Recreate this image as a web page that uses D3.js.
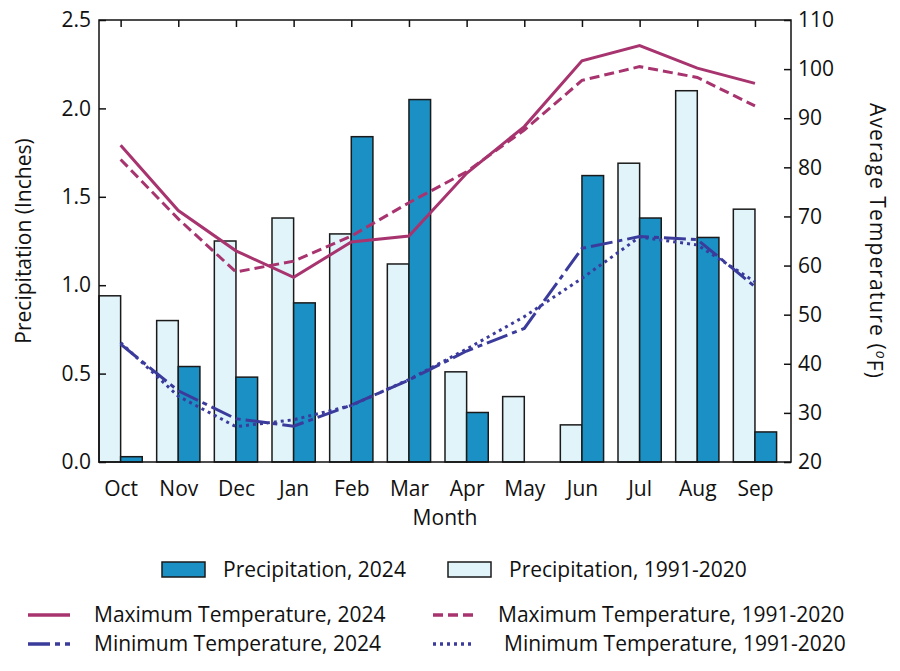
<!DOCTYPE html>
<html>
<head>
<meta charset="utf-8">
<script src="https://cdn.jsdelivr.net/npm/d3@7"></script>
<style>
  body { margin: 0; background: #fff; }
  svg text { font-family: "Open Sans", "Noto Sans", sans-serif; fill: #111; }
</style>
</head>
<body>
<div id="chart"></div>
<script>
// data
const months       = ["Oct", "Nov", "Dec", "Jan", "Feb", "Mar", "Apr", "May", "Jun", "Jul", "Aug", "Sep"];
const precip2024   = [0.03, 0.54, 0.48, 0.90, 1.84, 2.05, 0.28, 0.00, 1.62, 1.38, 1.27, 0.17];
const precipNormal = [0.94, 0.80, 1.25, 1.38, 1.29, 1.12, 0.51, 0.37, 0.21, 1.69, 2.10, 1.43];
const maxT2024     = [84.5, 71.2, 63.0, 57.6, 64.8, 66.0, 78.8, 88.3, 101.7, 104.8, 100.2, 97.1];
const maxTNormal   = [81.6, 69.5, 58.7, 60.9, 66.0, 72.8, 79.1, 87.6, 97.7, 100.5, 98.3, 92.5];
const minT2024     = [44.0, 34.5, 28.8, 27.3, 31.6, 36.7, 42.6, 47.2, 63.5, 65.9, 65.3, 55.7];
const minTNormal   = [44.3, 33.4, 27.2, 28.6, 31.5, 36.8, 43.0, 49.6, 57.4, 65.8, 64.2, 56.7];
const precipTicks  = [0, 0.5, 1.0, 1.5, 2.0, 2.5];
const tempTicks    = [20, 30, 40, 50, 60, 70, 80, 90, 100, 110];

const W = 900, H = 671;
const pl = 99, pr = 791, pt = 20, pb = 462; // plot box
const half = 0.375; // bar width in month units
const fs = "21px";

const c = {
  dark: "#1b90c4", light: "#e1f4fa", edge: "#1a1a1a",
  max: "#a8346f", min: "#3b3b9c"
};

const svg = d3.select("#chart").append("svg")
  .attr("width", W).attr("height", H);

// scales
const x  = d3.scaleLinear().domain([-half, months.length - half]).range([pl, pr]);
const yP = d3.scaleLinear().domain([0, 2.5]).range([pb, pt]);
const yT = d3.scaleLinear().domain([20, 110]).range([pb, pt]);

// bars
const idx = d3.range(months.length);
svg.append("g").selectAll("rect")
  .data(idx).enter().append("rect")
  .attr("x", i => x(i - half))
  .attr("width", i => x(i) - x(i - half))
  .attr("y", i => yP(precipNormal[i]))
  .attr("height", i => yP(0) - yP(precipNormal[i]))
  .attr("fill", c.light).attr("stroke", c.edge).attr("stroke-width", 1.5);

svg.append("g").selectAll("rect")
  .data(idx.filter(i => precip2024[i] > 0)).enter().append("rect")
  .attr("x", i => x(i))
  .attr("width", i => x(i + half) - x(i))
  .attr("y", i => yP(precip2024[i]))
  .attr("height", i => yP(0) - yP(precip2024[i]))
  .attr("fill", c.dark).attr("stroke", c.edge).attr("stroke-width", 1.5);

// lines
const line = d3.line().x((d, i) => x(i)).y(d => yT(d));
const series = [
  { v: maxT2024,   color: c.max, dash: null },
  { v: maxTNormal, color: c.max, dash: "10,5" },
  { v: minT2024,   color: c.min, dash: "22,5,5,5" },
  { v: minTNormal, color: c.min, dash: "3,4" }
];
series.forEach(s => {
  svg.append("path")
    .attr("d", line(s.v))
    .attr("fill", "none")
    .attr("stroke", s.color)
    .attr("stroke-width", 3)
    .attr("stroke-dasharray", s.dash);
});

// axes
const ax = g => {
  g.select(".domain").remove();
  g.selectAll(".tick line").attr("stroke", "#111").attr("stroke-width", 1.5);
  g.selectAll(".tick text").style("font-size", fs).attr("fill", "#111");
};

svg.append("g").attr("transform", `translate(${pl},0)`)
  .call(d3.axisLeft(yP).tickValues(precipTicks).tickSize(-7).tickPadding(8).tickFormat(d3.format(".1f")))
  .call(ax);

svg.append("g").attr("transform", `translate(${pr},0)`)
  .call(d3.axisRight(yT).tickValues(tempTicks).tickSize(-7).tickPadding(7))
  .call(ax);

svg.append("g").attr("transform", `translate(0,${pt})`)
  .call(d3.axisTop(x).tickValues(idx).tickSize(-7).tickFormat(""))
  .call(ax);

svg.append("g").attr("transform", `translate(0,${pb})`)
  .call(d3.axisBottom(x).tickValues(idx).tickSize(0).tickPadding(19).tickFormat(i => months[i]))
  .call(ax);

// frame
svg.append("rect")
  .attr("x", pl).attr("y", pt)
  .attr("width", pr - pl).attr("height", pb - pt)
  .attr("fill", "none").attr("stroke", "#111").attr("stroke-width", 1.5);

// axis titles
svg.append("text")
  .attr("x", (pl + pr) / 2).attr("y", 525)
  .attr("text-anchor", "middle").style("font-size", fs)
  .text("Month");

svg.append("text")
  .attr("transform", `translate(31,${(pt + pb) / 2}) rotate(-90)`)
  .attr("text-anchor", "middle").style("font-size", fs)
  .text("Precipitation (Inches)");

const rt = svg.append("text")
  .attr("transform", `translate(870,${(pt + pb) / 2}) rotate(90)`)
  .attr("text-anchor", "middle").style("font-size", fs)
  .style("letter-spacing", "1.1px");
rt.append("tspan").text("Average Temperature (");
rt.append("tspan").attr("dy", "-0.45em").style("font-size", "14px").style("font-style", "italic").text("o");
rt.append("tspan").attr("dy", "0.45em").text("F)");

// legend
const lg = svg.append("g").style("font-size", fs);

const swatch = [
  { x: 162, fill: c.dark,  tx: 223, label: "Precipitation, 2024" },
  { x: 448, fill: c.light, tx: 509, label: "Precipitation, 1991-2020" }
];
swatch.forEach(s => {
  lg.append("rect").attr("x", s.x).attr("y", 562).attr("width", 43).attr("height", 15)
    .attr("fill", s.fill).attr("stroke", c.edge).attr("stroke-width", 1.5);
  lg.append("text").attr("x", s.tx).attr("y", 570).attr("dy", "0.35em").text(s.label);
});

const lineKeys = [
  { x: 28,  y: 615, s: series[0], tx: 94,  label: "Maximum Temperature, 2024" },
  { x: 433, y: 615, s: series[1], tx: 498, label: "Maximum Temperature, 1991-2020" },
  { x: 28,  y: 644, s: series[2], tx: 94,  label: "Minimum Temperature, 2024" },
  { x: 433, y: 644, s: series[3], tx: 504, label: "Minimum Temperature, 1991-2020" }
];
lineKeys.forEach(k => {
  lg.append("line").attr("x1", k.x).attr("x2", k.x + 42).attr("y1", k.y).attr("y2", k.y)
    .attr("stroke", k.s.color).attr("stroke-width", 3.5).attr("stroke-dasharray", k.s.dash);
  lg.append("text").attr("x", k.tx).attr("y", k.y).attr("dy", "0.35em").text(k.label);
});
</script>
</body>
</html>
